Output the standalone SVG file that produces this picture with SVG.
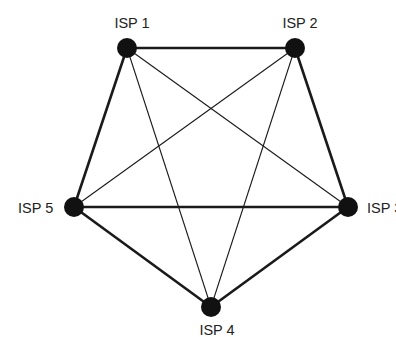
<svg xmlns="http://www.w3.org/2000/svg" width="396" height="337" viewBox="0 0 396 337">
<style>
.thick{stroke:#1a1a1a;stroke-width:2.6;fill:none}
.thin{stroke:#1a1a1a;stroke-width:1.1;fill:none}
.node{fill:#111}
.lbl{font-family:"Liberation Sans",Arial,sans-serif;font-size:14.5px;fill:#222}
</style>
<rect width="396" height="337" fill="#fff"/>
<g id="connectors">
<line class="thick" x1="127" y1="48" x2="295" y2="48"/>
<line class="thick" x1="295" y1="48" x2="348" y2="207"/>
<line class="thick" x1="348" y1="207" x2="211" y2="307"/>
<line class="thick" x1="211" y1="307" x2="74" y2="207"/>
<line class="thick" x1="74" y1="207" x2="127" y2="48"/>
<line class="thick" x1="74" y1="207" x2="348" y2="207"/>
<line class="thin" x1="127" y1="48" x2="348" y2="207"/>
<line class="thin" x1="127" y1="48" x2="211" y2="307"/>
<line class="thin" x1="295" y1="48" x2="74" y2="207"/>
<line class="thin" x1="295" y1="48" x2="211" y2="307"/>
</g>
<g id="isp1"><circle class="node" cx="127" cy="48" r="10"/><text class="lbl" x="132" y="28" text-anchor="middle">ISP 1</text></g>
<g id="isp2"><circle class="node" cx="295" cy="48" r="10"/><text class="lbl" x="300" y="28" text-anchor="middle">ISP 2</text></g>
<g id="isp3"><circle class="node" cx="348" cy="207" r="10"/><text class="lbl" x="367" y="213">ISP 3</text></g>
<g id="isp4"><circle class="node" cx="211" cy="307" r="10"/><text class="lbl" x="217" y="335" text-anchor="middle">ISP 4</text></g>
<g id="isp5"><circle class="node" cx="74" cy="207" r="10"/><text class="lbl" x="18" y="213">ISP 5</text></g>
</svg>
